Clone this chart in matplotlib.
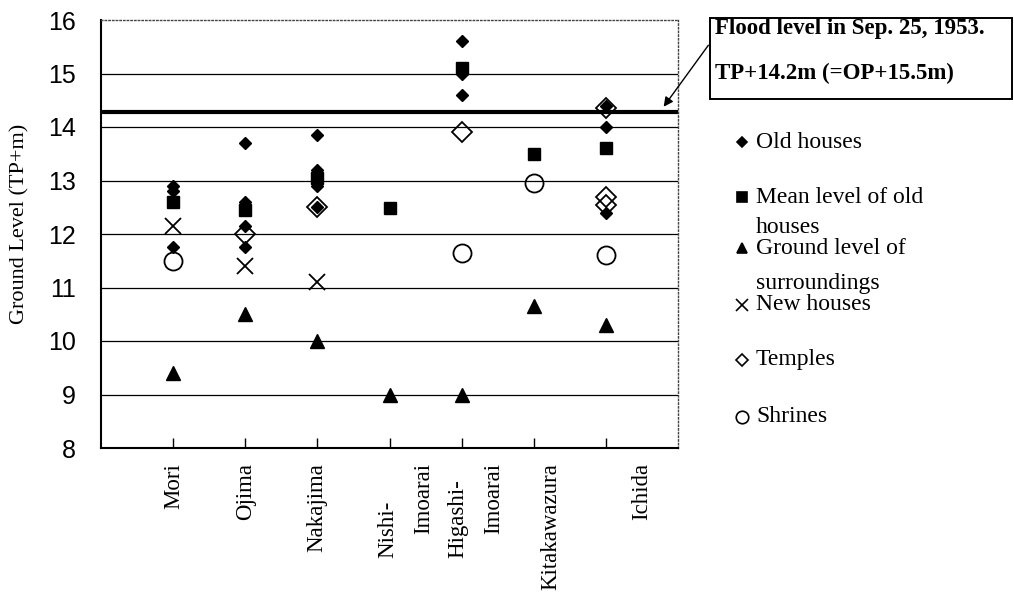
import matplotlib
matplotlib.use("Agg")
import matplotlib.pyplot as plt
from matplotlib.lines import Line2D
from matplotlib.patches import Rectangle, FancyArrowPatch
from matplotlib import font_manager

# ---- data ----
sites = ["Mori", "Ojima", "Nakajima", "Nishi-Imoarai", "Higashi-Imoarai", "Kitakawazura", "Ichida"]
site_pos = [1, 2, 3, 4, 5, 6, 7]
old_houses = [[12.9, 12.8, 11.75],
              [13.7, 12.6, 12.15, 11.75],
              [13.85, 13.2, 13.1, 12.9, 12.5],
              [12.48],
              [15.6, 15.0, 14.6],
              [13.5],
              [14.4, 14.0, 12.4]]
mean_old = [12.6, 12.45, 13.05, 12.48, 15.1, 13.5, 13.6]
ground = [9.4, 10.5, 10.0, 9.0, 9.0, 10.65, 10.3]
new_houses = [(1, 12.15), (2, 11.4), (3, 11.1)]
temples = [(2, 12.0), (3, 12.5), (5, 13.9), (7, 14.35), (7, 12.7), (7, 12.55)]
shrines = [(1, 11.5), (5, 11.65), (6, 12.95), (7, 11.6)]
flood_level = 14.28
yticks = [8, 9, 10, 11, 12, 13, 14, 15, 16]

avail = {f.name for f in font_manager.fontManager.ttflist}
narrow = 'Liberation Sans Narrow' in avail
tickfont = 'Liberation Sans Narrow' if narrow else 'Liberation Sans'
tickfs = 20 if narrow else 18
serif = 'Liberation Serif'

W, H = 1014, 597
fig = plt.figure(figsize=(W / 100, H / 100), dpi=100)
ax = fig.add_axes([101 / W, 1 - 448 / H, 577 / W, 428 / H])
ax.set_xlim(0, 8)
ax.set_ylim(8, 16)

for y in yticks[1:-1]:
    ax.axhline(y, color="black", lw=0.9, zorder=1)
ax.axhline(flood_level, color="black", lw=3, zorder=2)

# markers
ax.plot([p for p, _ in shrines], [v for _, v in shrines], 'o', ms=13, mfc='none',
        mec='black', mew=1.3, zorder=3, clip_on=False)
ax.plot([p for p, _ in temples], [v for _, v in temples], 'D', ms=10, mfc='none',
        mec='black', mew=1.3, zorder=3)
ax.plot([p for p, _ in new_houses], [v for _, v in new_houses], 'x', ms=12,
        mec='black', mew=1.3, zorder=3)
ax.plot(site_pos, ground, '^', ms=9.4, color='black', zorder=4)
ax.plot(site_pos, mean_old, 's', ms=8.5, color='black', zorder=4)
for p, vals in zip(site_pos, old_houses):
    ax.plot([p] * len(vals), vals, 'D', ms=6.5, color='black', zorder=5)

# axes styling
ax.set_xticks(site_pos)
ax.set_xticklabels([])
ax.tick_params(axis='x', direction='in', length=7, width=1, color='black')
ax.set_yticks(yticks)
ax.set_yticklabels([str(t) for t in yticks], fontfamily=tickfont, fontsize=tickfs)
ax.tick_params(axis='y', length=0, pad=18)
for s in ['left', 'bottom']:
    ax.spines[s].set_linewidth(1.5)
for s in ['top', 'right']:
    ax.spines[s].set_linewidth(1.0)
    ax.spines[s].set_linestyle(':')
    ax.spines[s].set_color('#444444')

# x labels (placed as in the reference)
xlab = [("Mori", 1.005, 'top', 15), ("Ojima", 2.0, 'top', 15), ("Nakajima", 2.99, 'top', 15),
        ("Nishi-", 3.98, 'bottom', 110), ("Imoarai", 4.48, 'top', 15),
        ("Higashi-", 4.95, 'bottom', 110), ("Imoarai", 5.45, 'top', 15),
        ("Kitakawazura", 6.23, 'top', 15), ("Ichida", 7.50, 'top', 15)]
for txt, xp, va, dy in xlab:
    ax.annotate(txt, xy=(xp, 0), xycoords=('data', 'axes fraction'),
                xytext=(0, -dy), textcoords='offset pixels', rotation=90,
                ha='center', va=va, fontsize=16.5, family=serif, annotation_clip=False)

# y label
fig.text(20 / W, 1 - 224 / H, "Ground Level (TP+m)", rotation=90, ha='center', va='center',
         fontsize=16, family=serif)

# annotation box
fig.add_artist(Rectangle((710 / W, 1 - 99 / H), (1012 - 710) / W, (99 - 18) / H,
                         transform=fig.transFigure, fill=False, ec='black', lw=1.4))
fig.text(715 / W, 1 - 34 / H, "Flood level in Sep. 25, 1953.", ha='left', va='baseline',
         fontsize=16.5, fontweight='bold', family=serif)
fig.text(715 / W, 1 - 79 / H, "TP+14.2m (=OP+15.5m)", ha='left', va='baseline',
         fontsize=16.5, fontweight='bold', family=serif)
fig.add_artist(FancyArrowPatch(
    (710 / W, 1 - 43 / H), (662 / W, 1 - 109 / H), transform=fig.transFigure,
    arrowstyle='-|>', mutation_scale=14, color='black', lw=1))

# legend
leg = [('D', 5, 'black', 'Old houses', 142, None),
       ('s', 6.5, 'black', 'Mean level of old', 197, 'houses'),
       ('^', 7, 'black', 'Ground level of', 248, 'surroundings'),
       ('x', 9, 'none', 'New houses', 305, None),
       ('D', 6.5, 'none', 'Temples', 360, None),
       ('o', 9, 'none', 'Shrines', 417, None)]
for mk, ms, fc, t1, yy, t2 in leg:
    fig.add_artist(Line2D([742 / W], [1 - yy / H], marker=mk, ms=ms, mfc=fc, mec='black',
                          mew=1.2, ls='none', transform=fig.transFigure))
    fig.text(756 / W, 1 - yy / H, t1, ha='left', va='center', fontsize=17, family=serif)
    if t2:
        fig.text(756 / W, 1 - (yy + 30 if t2 == 'houses' else yy + 35) / H, t2,
                 ha='left', va='center', fontsize=17, family=serif)

fig.savefig("out.png", dpi=100)
